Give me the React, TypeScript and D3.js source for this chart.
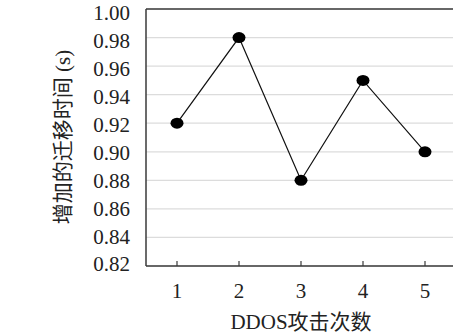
import React from 'react';
import * as d3 from 'd3';

const attacks = [1, 2, 3, 4, 5];
const extraTime = [0.92, 0.98, 0.88, 0.95, 0.9];
const yTicks = [0.82, 0.84, 0.86, 0.88, 0.9, 0.92, 0.94, 0.96, 0.98, 1.0];
const xTitle = 'DDOS攻击次数';
const yTitle = '增加的迁移时间 (s)';

export default function App() {
  const width = 453;
  const height = 334;
  const left = 146;
  const top = 9;
  const bottom = 266;

  const x = d3.scalePoint<number>().domain(attacks).range([left, left + 310]).padding(0.5);
  const y = d3.scaleLinear().domain([0.82, 1.0]).range([bottom, top]);
  // tick labels sit slightly off the grid in the original
  const yLabel = d3.scaleLinear().domain([0.82, 1.0]).range([264.5, 13.5]);

  const line = d3.line<number>()
    .x((d, i) => x(attacks[i])!)
    .y(d => y(d));

  const textStyle = { fontFamily: "'Liberation Serif', 'DejaVu Serif', 'Noto Sans CJK SC', serif" };

  return (
    <svg width={width} height={height} style={{ position: 'absolute', left: 0, top: 0 }}>
      {/* grid */}
      {yTicks.map(t => (
        <line key={t} x1={left} x2={width + 10} y1={y(t)} y2={y(t)} stroke="#dcdcdc" strokeWidth={1.2} />
      ))}
      {/* frame */}
      <line x1={left} x2={width + 10} y1={top} y2={top} stroke="#3a3a3a" strokeWidth={1.5} />
      <line x1={left} x2={left} y1={top} y2={bottom} stroke="#3a3a3a" strokeWidth={1.5} />
      <line x1={left} x2={width + 10} y1={bottom} y2={bottom} stroke="#3a3a3a" strokeWidth={1.5} />
      {/* x ticks */}
      {attacks.map(a => (
        <g key={a}>
          <line x1={x(a)} x2={x(a)} y1={bottom} y2={bottom - 5} stroke="#3a3a3a" strokeWidth={1.2} />
          <text x={x(a)} y={bottom + 32} textAnchor="middle" fontSize={21} fill="#222" style={textStyle}>{a}</text>
        </g>
      ))}
      {/* y tick labels */}
      {yTicks.map(t => (
        <text key={t} x={130} y={yLabel(t)} dy="0.33em" textAnchor="end" fontSize={21} fill="#222" style={textStyle}>
          {d3.format('.2f')(t)}
        </text>
      ))}
      {/* series */}
      <path d={line(extraTime)!} fill="none" stroke="#111" strokeWidth={1.2} />
      {extraTime.map((v, i) => (
        <ellipse key={i} cx={x(attacks[i])} cy={y(v)} rx={6.5} ry={5.5} fill="#000" />
      ))}
      {/* titles */}
      <text x={x(3)} y={329} textAnchor="middle" fontSize={21} fill="#222" style={textStyle}>{xTitle}</text>
      <text transform="translate(70, 137) rotate(-90)" textAnchor="middle"
        fontSize={21} fill="#222" style={textStyle}>{yTitle}</text>
    </svg>
  );
}
